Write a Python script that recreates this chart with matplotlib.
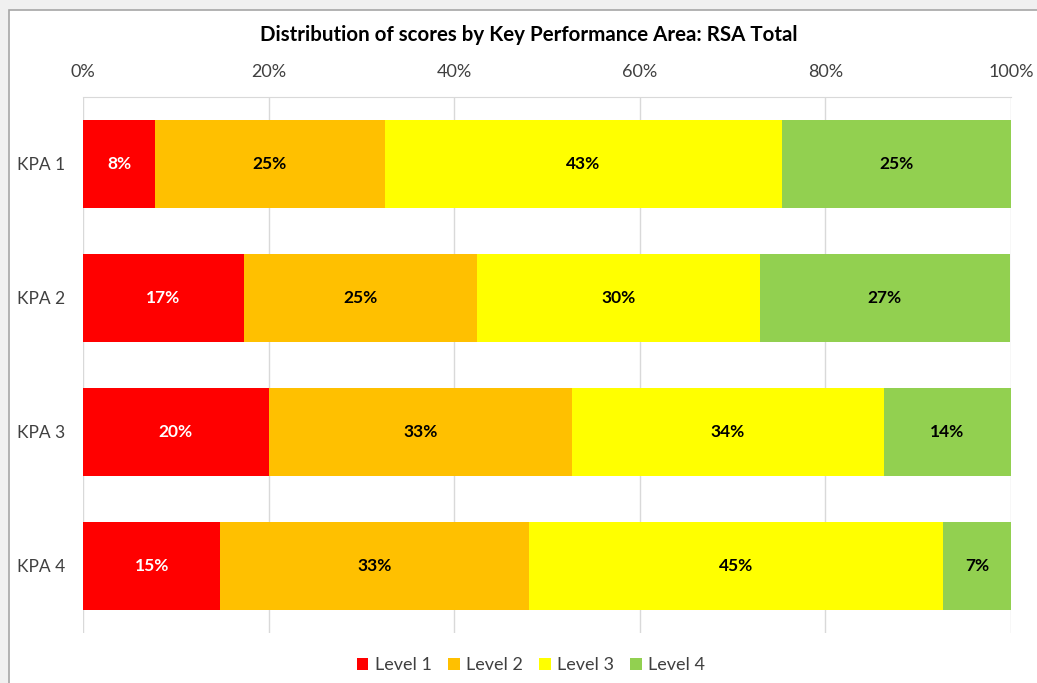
import matplotlib
matplotlib.use('Agg')
import matplotlib.pyplot as plt
from matplotlib.patches import Rectangle
from matplotlib.ticker import PercentFormatter
import numpy as np

# -------------------------------------------------------------
# data (percent of total)
# -------------------------------------------------------------
categories = ['KPA 1', 'KPA 2', 'KPA 3', 'KPA 4']
level_names = ['Level 1', 'Level 2', 'Level 3', 'Level 4']
level1 = [7.8, 17.3, 20.0, 14.8]
level2 = [24.7, 25.2, 32.7, 33.3]
level3 = [42.8, 30.4, 33.6, 44.6]
level4 = [24.8, 27.0, 13.8, 7.4]
x_ticks = [0, 20, 40, 60, 80, 100]

colors = ['#FF0000', '#FFC000', '#FFFF00', '#92D050']
label_colors = ['white', 'black', 'black', 'black']

plt.rcParams['font.family'] = ['Lato', 'DejaVu Sans']

# -------------------------------------------------------------
# figure + chart frame
# -------------------------------------------------------------
fig = plt.figure(figsize=(10.37, 6.83), dpi=100)
fig.patch.set_facecolor('#f0f0f0')
fig.patches.append(Rectangle((9 / 1037, -0.05), 1.1, 1 - 10 / 683 + 0.05,
                             transform=fig.transFigure, facecolor='white',
                             edgecolor='#a6a6a6', linewidth=1.2, zorder=-10))

ax = fig.add_axes([83 / 1037, 1 - 633 / 683, (1011 - 83) / 1037, (633 - 97) / 683])
ax.set_facecolor('white')

y = np.arange(len(categories))
series = [level1, level2, level3, level4]
left = np.zeros(len(categories))
for name, vals, col, lcol in zip(level_names, series, colors, label_colors):
    vals = np.array(vals)
    bars = ax.barh(y, vals, left=left, height=0.65, color=col, label=name, zorder=2)
    ax.bar_label(bars, labels=[f'{round(v):d}%' for v in vals], label_type='center',
                 color=lcol, fontweight='bold', fontsize=12.5)
    left += vals

ax.set_xlim(0, 100)
ax.set_ylim(len(categories) - 0.5, -0.5)
ax.set_xticks(x_ticks)
ax.xaxis.set_major_formatter(PercentFormatter(decimals=0))
ax.xaxis.tick_top()
ax.tick_params(axis='x', length=0, pad=12, labelsize=13, labelcolor='#404040')
ax.set_yticks(y)
ax.set_yticklabels(categories)
ax.tick_params(axis='y', length=0, pad=13, labelsize=12.5, labelcolor='#404040')
ax.grid(axis='x', color='#d9d9d9', linewidth=1, zorder=0)
ax.set_axisbelow(True)
for s in ['left', 'right', 'bottom']:
    ax.spines[s].set_visible(False)
ax.spines['top'].set_color('#d9d9d9')

fig.text(529 / 1037, 1 - 35 / 683, 'Distribution of scores by Key Performance Area: RSA Total',
         ha='center', va='center', fontsize=14.8, fontweight='bold', color='black')

ax.legend(loc='center', bbox_to_anchor=(531 / 1037, 1 - 665 / 683), bbox_transform=fig.transFigure,
          ncol=4, frameon=False, fontsize=13, handlelength=0.65, handleheight=0.65,
          handletextpad=0.35, columnspacing=0.9, labelcolor='#404040')

fig.savefig('out.png', dpi=100, facecolor=fig.get_facecolor())
plt.close(fig)
